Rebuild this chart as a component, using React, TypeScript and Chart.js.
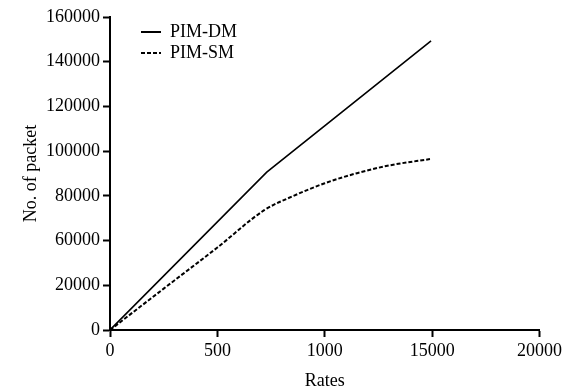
import React, { useEffect, useRef } from "react";
import { Chart, registerables } from "chart.js";

Chart.register(...registerables);

const xTickLabels = ["0", "500", "1000", "15000", "20000"];
const yTickLabels = ["0", "20000", "60000", "80000", "100000", "120000", "140000", "160000"];

const dmRates = [0, 730, 1495];
const dmPackets = [0, 70600, 129300];

const smRates = [0, 250, 500, 720, 850, 1000, 1150, 1300, 1490];
const smPackets = [0, 18500, 36900, 53700, 59800, 65650, 70150, 73600, 76450];

const FONT = "'Liberation Serif', 'Times New Roman', serif";

export default function App() {
  const ref = useRef<HTMLCanvasElement | null>(null);

  useEffect(() => {
    if (!ref.current) return;
    const legendOffset = {
      id: "legendOffset",
      afterLayout(chart: any) {
        const l = chart.legend;
        if (l) {
          l.left += 28;
          l.right += 28;
          l.top += 20;
          l.bottom += 20;
        }
      },
    };
    const chart = new Chart(ref.current, {
      type: "line",
      data: {
        datasets: [
          {
            label: "PIM-DM",
            data: dmRates.map((x, i) => ({ x, y: dmPackets[i] })),
            borderColor: "#000",
            backgroundColor: "#000",
            borderWidth: 1.6,
            pointRadius: 0,
            tension: 0,
            fill: false,
          },
          {
            label: "PIM-SM",
            data: smRates.map((x, i) => ({ x, y: smPackets[i] })),
            borderColor: "#000",
            backgroundColor: "#000",
            borderWidth: 2,
            borderDash: [4, 2],
            pointRadius: 0,
            cubicInterpolationMode: "monotone",
            fill: false,
          },
        ],
      },
      options: {
        animation: false,
        responsive: true,
        maintainAspectRatio: false,
        layout: { padding: { left: 0, top: 17, right: 23, bottom: 0 } },
        plugins: {
          legend: {
            position: "chartArea" as any,
            align: "start",
            labels: {
              usePointStyle: true,
              pointStyle: "line",
              pointStyleWidth: 20,
              padding: 3,
              color: "#000",
              font: { family: FONT, size: 18 },
              generateLabels: (chart: any) =>
                chart.data.datasets.map((ds: any, i: number) => ({
                  text: ds.label,
                  datasetIndex: i,
                  fillStyle: ds.backgroundColor,
                  strokeStyle: ds.borderColor,
                  lineWidth: 2,
                  lineDash: ds.borderDash || [],
                  pointStyle: "line",
                  fontColor: "#000",
                  hidden: false,
                })),
            },
          },
          tooltip: { enabled: false },
        },
        scales: {
          x: {
            type: "linear",
            min: 0,
            max: 2000,
            ticks: {
              stepSize: 500,
              padding: 3,
              color: "#000",
              font: { family: FONT, size: 18 },
              maxRotation: 0,
              callback: (_v: any, i: number) => xTickLabels[i],
            },
            grid: {
              display: true,
              drawOnChartArea: false,
              drawTicks: true,
              tickLength: 7,
              tickWidth: 2,
              tickColor: "#000",
            },
            border: { display: true, color: "#000", width: 2 },
            title: {
              display: true,
              text: "Rates",
              color: "#000",
              font: { family: FONT, size: 18, lineHeight: 1.0 },
              padding: { top: 0, bottom: 0 },
            },
            afterFit: (s: any) => {
              s.height = 60;
            },
          },
          y: {
            type: "linear",
            min: 0,
            max: 140000,
            ticks: {
              stepSize: 20000,
              padding: 3,
              color: "#000",
              font: { family: FONT, size: 18 },
              callback: (_v: any, i: number) => yTickLabels[i],
            },
            grid: {
              display: true,
              drawOnChartArea: false,
              drawTicks: true,
              tickLength: 7,
              tickWidth: 2,
              tickColor: "#000",
            },
            border: { display: true, color: "#000", width: 2 },
            title: {
              display: true,
              text: "No. of packet",
              color: "#000",
              font: { family: FONT, size: 18 },
              padding: { top: 20, bottom: 0 },
            },
            afterFit: (s: any) => {
              s.width = 110;
            },
          },
        },
      },
      plugins: [legendOffset],
    });
    return () => chart.destroy();
  }, []);

  return (
    <div style={{ position: "fixed", left: 0, top: 0, width: 565, height: 390, background: "#fff" }}>
      <canvas ref={ref} />
    </div>
  );
}
